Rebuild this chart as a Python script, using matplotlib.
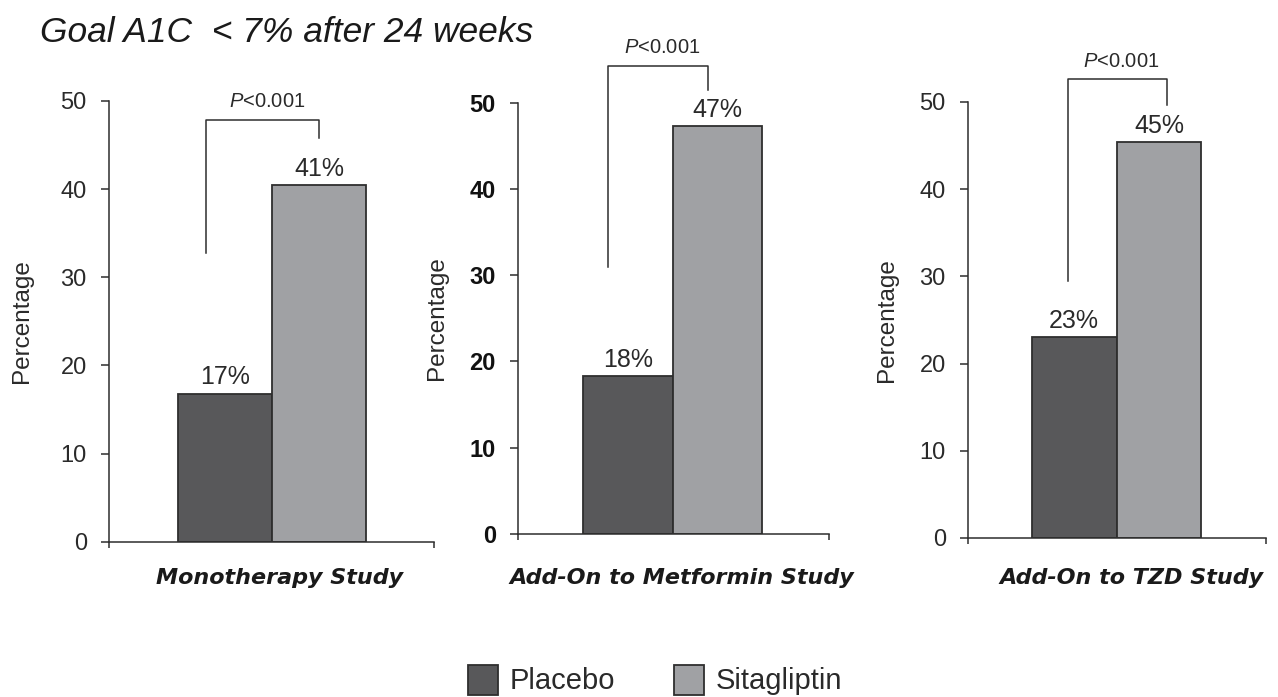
import matplotlib
matplotlib.use("Agg")
import matplotlib.pyplot as plt
from matplotlib.patches import Patch
import matplotlib.transforms as mtransforms

plt.rcParams['font.family'] = ['Liberation Sans', 'DejaVu Sans']
plt.rcParams['mathtext.fontset'] = 'custom'
plt.rcParams['mathtext.it'] = 'Liberation Sans:italic'
plt.rcParams['mathtext.rm'] = 'Liberation Sans'

# data
studies = ["Monotherapy Study", "Add-On to Metformin Study", "Add-On to TZD Study"]
groups = ["Placebo", "Sitagliptin"]
placebo = [16.8, 18.3, 23.0]
sitagliptin = [40.5, 47.3, 45.4]
placebo_labels = ["17%", "18%", "23%"]
sitagliptin_labels = ["41%", "47%", "45%"]
p_values = ["$P$<0.001", "$P$<0.001", "$P$<0.001"]

# significance brackets (x in bar units, y in percent)
bracket_x = [(-0.2, 1.0), (-0.22, 0.89), (-0.07, 1.09)]
bracket_y = [(32.8, 47.9, 45.8), (30.9, 54.3, 51.5), (29.5, 52.6, 49.6)]

col_placebo = "#58585a"
col_sita = "#a0a1a4"
edge = "#2e2e2e"
text_col = "#2a2a2a"

W, H = 1278, 697
fig = plt.figure(figsize=(W / 100, H / 100), dpi=100)

# axes boxes in pixels: left, right, y of 0, y of 50
boxes = [(109, 434, 541.7, 101), (518, 829, 534, 102.7), (968, 1266, 538, 102)]
xlims = [(-1.234, 2.22), (-1.22, 2.24), (-1.25, 2.26)]
label_x = [22, 437, 887]
study_x = [0.58, 0.6, 0.68]

for i, (l, r, y0, y50) in enumerate(boxes):
    ax = fig.add_axes([l / W, 1 - y0 / H, (r - l) / W, (y0 - y50) / H])
    ax.bar([0, 1], [placebo[i], sitagliptin[i]], width=1.0,
           color=[col_placebo, col_sita], edgecolor=edge, linewidth=1.3, zorder=2)
    ax.set_xlim(*xlims[i])
    ax.set_ylim(0, 50)

    for s in ['top', 'right']:
        ax.spines[s].set_visible(False)
    for s in ['left', 'bottom']:
        ax.spines[s].set_color(edge)
        ax.spines[s].set_linewidth(1.1)

    ax.set_yticks([0, 10, 20, 30, 40, 50])
    ax.tick_params(axis='y', length=6, width=1.1, color=edge, pad=10,
                   labelsize=17, labelcolor=text_col)
    if i == 1:
        for t in ax.get_yticklabels():
            t.set_fontweight('bold')
            t.set_color('#111111')
    ax.set_xticks(list(xlims[i]))
    ax.set_xticklabels([])
    ax.tick_params(axis='x', length=4, width=1.1, color=edge)

    # y label
    ax.text((label_x[i] - l) / (r - l), 0.5, "Percentage", transform=ax.transAxes,
            rotation=90, ha='center', va='center', fontsize=17.5, color=text_col)

    # value labels
    ax.annotate(placebo_labels[i], (0, placebo[i]), xytext=(0, 3),
                textcoords='offset points', ha='center', va='bottom',
                fontsize=18, color=text_col)
    ax.annotate(sitagliptin_labels[i], (1, sitagliptin[i]), xytext=(0, 3),
                textcoords='offset points', ha='center', va='bottom',
                fontsize=18, color=text_col)

    # bracket
    bx0, bx1 = bracket_x[i]
    yb, yt, ye = bracket_y[i]
    ax.plot([bx0, bx0, bx1, bx1], [yb, yt, yt, ye], color=edge, lw=1.1,
            clip_on=False)
    ax.annotate(p_values[i], ((bx0 + bx1) / 2, yt), xytext=(3, 6),
                textcoords='offset points', ha='center', va='bottom',
                fontsize=14.5, color=text_col, annotation_clip=False)

    # study name under the axis
    trans = mtransforms.blended_transform_factory(ax.transData, fig.transFigure)
    ax.text(study_x[i], 1 - 578 / H, studies[i], transform=trans, ha='center',
            va='center', fontsize=16, fontweight='bold', fontstyle='italic',
            family='DejaVu Sans', color='#1a1a1a')

fig.text(40 / W, 1 - 42 / H, "Goal A1C  < 7% after 24 weeks", ha='left',
         va='baseline', fontsize=25.5, fontstyle='italic', color='#1a1a1a')

handles = [Patch(facecolor=col_placebo, edgecolor=edge, linewidth=1.3, label=groups[0]),
           Patch(facecolor=col_sita, edgecolor=edge, linewidth=1.3, label=groups[1])]
fig.legend(handles=handles, loc='center', bbox_to_anchor=(655 / W, 1 - 680 / H),
           ncol=2, frameon=False, fontsize=21, handlelength=1.05, handleheight=1.2,
           handletextpad=0.4, columnspacing=2.0, labelcolor=text_col)

fig.savefig("out.png", dpi=100)
